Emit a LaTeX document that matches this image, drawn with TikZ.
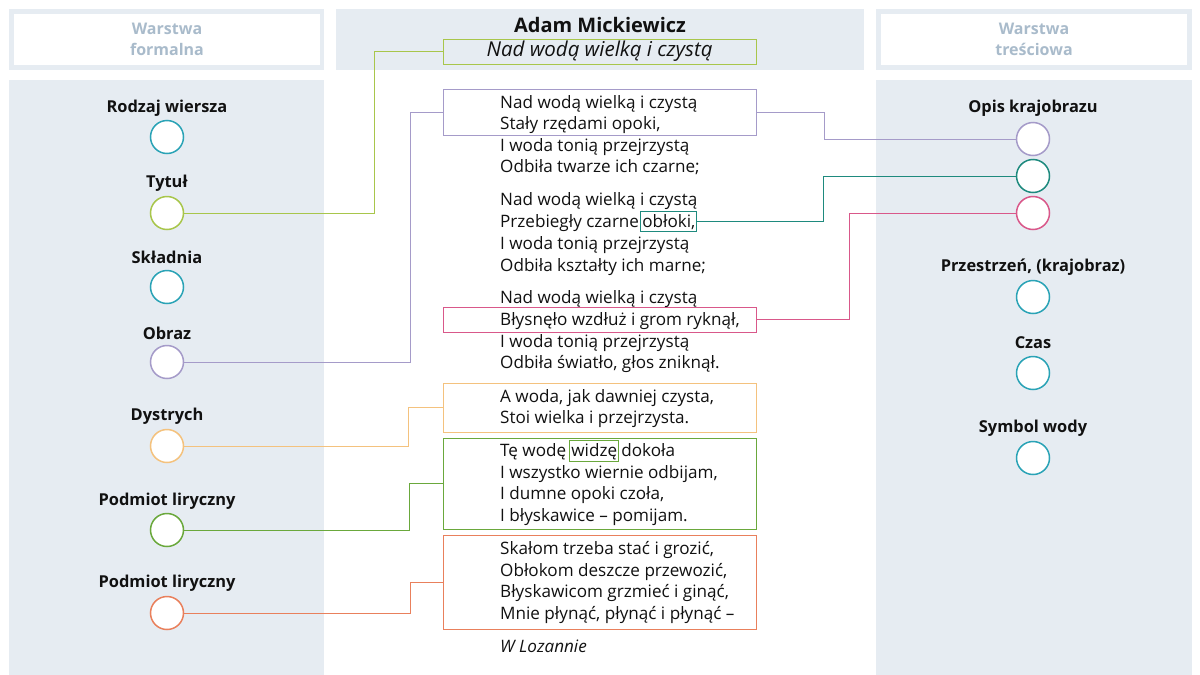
\documentclass[tikz,border=0pt]{standalone}
\usepackage{fontspec}
\setmainfont{Open Sans}
\usetikzlibrary{calc}
\definecolor{panel}{HTML}{E6ECF2}
\definecolor{hdrtxt}{HTML}{A9BBCB}
\definecolor{cTitle}{HTML}{A8C64B}
\definecolor{cPurple}{HTML}{A59BC9}
\definecolor{cTeal}{HTML}{2AA3B6}
\definecolor{cDTeal}{HTML}{1E8A7E}
\definecolor{cPink}{HTML}{D9588A}
\definecolor{cOrange}{HTML}{F4C27E}
\definecolor{cGreen}{HTML}{6AA83C}
\definecolor{cRed}{HTML}{E9805C}
\definecolor{txt}{HTML}{111111}
\begin{document}
\begin{tikzpicture}[x=1pt,y=-1pt,
  lbl/.style={font=\fontsize{16.4}{19}\selectfont\bfseries, text=txt, inner sep=0},
  hdr/.style={font=\fontsize{16}{21}\selectfont\bfseries, text=hdrtxt, align=center, inner sep=0},
  dot/.style={circle, draw=#1, fill=white, line width=1.5pt, minimum size=33pt, inner sep=0},
  pl/.style={font=\fontsize{17.1}{20}\selectfont, inner sep=0, anchor=base west, text=txt},
  hbox/.style={draw=#1, line width=1pt, minimum width=313pt, inner sep=0},
  wbox/.style={draw=#1, line width=1pt, inner xsep=1.5pt, inner ysep=2.5pt, anchor=base west, font=\fontsize{17.1}{20}\selectfont, text=txt},
  conn/.style={draw=#1, line width=1pt},
]
\useasboundingbox (0,0) rectangle (1200,675);
\fill[white] (0,0) rectangle (1200,675);
% panels
\fill[panel] (9,9) rectangle (324,70);
\fill[white] (14,14) rectangle (320,65);
\fill[panel] (876,9) rectangle (1192,70);
\fill[white] (881,14) rectangle (1187,65);
\fill[panel] (336,9) rectangle (864,70);
\fill[panel] (9,80) rectangle (324,675);
\fill[panel] (876,80) rectangle (1192,675);
% headers
\node[hdr] (hl) at (167,39) {Warstwa\\formalna};
\node[hdr] (hr) at (1034,39) {Warstwa\\treściowa};
\node[font=\fontsize{20}{24}\selectfont\bfseries, text=txt, inner sep=0] (author) at (600,25) {Adam Mickiewicz};
\node[hbox=cTitle, minimum height=25pt, font=\fontsize{20.5}{24}\selectfont\itshape, text=txt] (sub) at (599.5,51.5) {Nad wodą wielką i czystą};
% left column
\node[lbl] (t1) at (167,108) {Rodzaj wiersza};
\node[dot=cTeal] (c1) at (167,137) {};
\node[lbl] (t2) at (167,183) {Tytuł};
\node[dot=cTitle] (c2) at (167,213) {};
\node[lbl] (t3) at (167,257) {Składnia};
\node[dot=cTeal] (c3) at (167,287) {};
\node[lbl] (t4) at (167,333) {Obraz};
\node[dot=cPurple] (c4) at (167,362) {};
\node[lbl] (t5) at (167,416) {Dystrych};
\node[dot=cOrange] (c5) at (167,446) {};
\node[lbl] (t6) at (167,501) {Podmiot liryczny};
\node[dot=cGreen] (c6) at (167,530) {};
\node[lbl] (t7) at (167,583) {Podmiot liryczny};
\node[dot=cRed] (c7) at (167,613) {};
% right column
\node[lbl] (r1) at (1033,108) {Opis krajobrazu};
\node[dot=cPurple] (o1) at (1033,139) {};
\node[dot=cDTeal] (o2) at (1033,176) {};
\node[dot=cPink] (o3) at (1033,213) {};
\node[lbl] (r4) at (1033,267) {Przestrzeń, (krajobraz)};
\node[dot=cTeal] (o4) at (1033,297) {};
\node[lbl] (r5) at (1033,343) {Czas};
\node[dot=cTeal] (o5) at (1033,373) {};
\node[lbl] (r6) at (1033,428) {Symbol wody};
\node[dot=cTeal] (o6) at (1033,458) {};
% highlight boxes
\node[hbox=cPurple, minimum height=46pt] (b1) at (599.5,112) {};
\node[hbox=cPink, minimum height=25pt] (b3) at (599.5,319.5) {};
\node[hbox=cOrange, minimum height=49pt] (b4) at (599.5,407.5) {};
\node[hbox=cGreen, minimum height=91pt] (b5) at (599.5,483.5) {};
\node[hbox=cRed, minimum height=94pt] (b6) at (599.5,582) {};
% poem
\node[pl] (p11) at (500,108) {Nad wodą wielką i czystą};
\node[pl] (p12) at (500,129) {Stały rzędami opoki,};
\node[pl] (p13) at (500,151) {I woda tonią przejrzystą};
\node[pl] (p14) at (500,172) {Odbiła twarze ich czarne;};
\node[pl] (p21) at (500,205) {Nad wodą wielką i czystą};
\node[pl] (p22) at (500,227) {Przebiegły czarne};
\node[wbox=cDTeal] (obl) at ($(p22.base east)+(1,0)$) {obłoki,};
\node[pl] (p23) at (500,249) {I woda tonią przejrzystą};
\node[pl] (p24) at (500,271) {Odbiła kształty ich marne;};
\node[pl] (p31) at (500,303) {Nad wodą wielką i czystą};
\node[pl] (p32) at (500,325) {Błysnęło wzdłuż i grom ryknął,};
\node[pl] (p33) at (500,347) {I woda tonią przejrzystą};
\node[pl] (p34) at (500,368) {Odbiła światło, głos zniknął.};
\node[pl] (p41) at (500,402) {A woda, jak dawniej czysta,};
\node[pl] (p42) at (500,423) {Stoi wielka i przejrzysta.};
\node[pl] (p51) at (500,456) {Tę wodę};
\node[wbox=cGreen] (wid) at ($(p51.base east)+(3,0)$) {widzę};
\node[pl] (p51b) at ($(wid.base east)+(2,0)$) {dokoła};
\node[pl] (p52) at (500,478) {I wszystko wiernie odbijam,};
\node[pl] (p53) at (500,499) {I dumne opoki czoła,};
\node[pl] (p54) at (500,521) {I błyskawice – pomijam.};
\node[pl] (p61) at (500,554) {Skałom trzeba stać i grozić,};
\node[pl] (p62) at (500,576) {Obłokom deszcze przewozić,};
\node[pl] (p63) at (500,597) {Błyskawicom grzmieć i ginąć,};
\node[pl] (p64) at (500,619) {Mnie płynąć, płynąć i płynąć –};
\node[pl, font=\fontsize{17.1}{20}\selectfont\itshape] (place) at (500,652) {W Lozannie};
% bend coordinates
\coordinate (x1) at (374,0);
\coordinate (x2) at (410,0);
\coordinate (x3) at (408,0);
\coordinate (x4) at (409,0);
\coordinate (x5) at (410,0);
\coordinate (y1) at (824,0);
\coordinate (y2) at (823,0);
\coordinate (y3) at (849,0);
% connectors
\draw[conn=cTitle] (c2.east) -| (x1 |- sub.west) -- (sub.west);
\draw[conn=cPurple] (c4.east) -| (x2 |- b1.west) -- (b1.west);
\draw[conn=cOrange] (c5.east) -| (x3 |- b4.west) -- (b4.west);
\draw[conn=cGreen] (c6.east) -| (x4 |- b5.west) -- (b5.west);
\draw[conn=cRed] (c7.east) -| (x5 |- b6.west) -- (b6.west);
\draw[conn=cPurple] (b1.east) -| (y1 |- o1.west) -- (o1.west);
\draw[conn=cDTeal] (obl.east) -| (y2 |- o2.west) -- (o2.west);
\draw[conn=cPink] (b3.east) -| (y3 |- o3.west) -- (o3.west);
\end{tikzpicture}
\end{document}
